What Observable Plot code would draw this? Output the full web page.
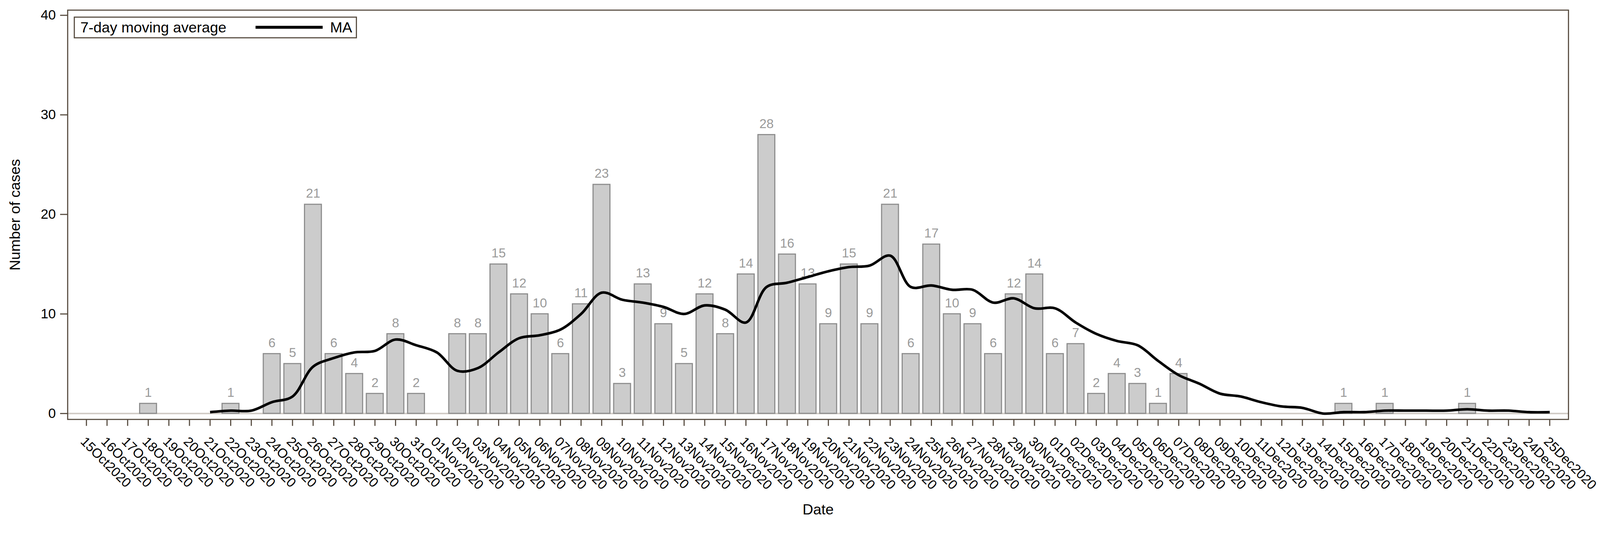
<!DOCTYPE html>
<html>
<head>
<meta charset="utf-8">
<script src="https://cdn.jsdelivr.net/npm/d3@7"></script>
<script src="https://cdn.jsdelivr.net/npm/@observablehq/plot@0.6"></script>
<style>
  html, body { margin: 0; padding: 0; background: #ffffff; overflow: hidden; }
  #wrap { position: relative; width: 4339px; height: 1426px; font-family: "Liberation Sans", Arial, sans-serif; transform-origin: 0 0; }
  #wrap svg { display: block; max-width: none; }
  #legend { position: absolute; left: 200px; top: 45px; width: 762px; height: 53px; border: 3px solid #54493d; background: #fff; box-sizing: content-box; }
  #legend .t1 { position: absolute; left: 15px; top: 4px; font-size: 40px; line-height: 44px; color: #000; }
  #legend .sw { position: absolute; left: 490px; top: 22px; width: 182px; height: 8px; background: #000; }
  #legend .t2 { position: absolute; left: 692px; top: 4px; font-size: 40px; line-height: 44px; color: #000; }
</style>
</head>
<body>
<div id="wrap"></div>
<script>
const dates = [
  "15Oct2020","16Oct2020","17Oct2020","18Oct2020","19Oct2020","20Oct2020","21Oct2020","22Oct2020","23Oct2020","24Oct2020",
  "25Oct2020","26Oct2020","27Oct2020","28Oct2020","29Oct2020","30Oct2020","31Oct2020",
  "01Nov2020","02Nov2020","03Nov2020","04Nov2020","05Nov2020","06Nov2020","07Nov2020","08Nov2020","09Nov2020","10Nov2020",
  "11Nov2020","12Nov2020","13Nov2020","14Nov2020","15Nov2020","16Nov2020","17Nov2020","18Nov2020","19Nov2020","20Nov2020",
  "21Nov2020","22Nov2020","23Nov2020","24Nov2020","25Nov2020","26Nov2020","27Nov2020","28Nov2020","29Nov2020","30Nov2020",
  "01Dec2020","02Dec2020","03Dec2020","04Dec2020","05Dec2020","06Dec2020","07Dec2020","08Dec2020","09Dec2020","10Dec2020",
  "11Dec2020","12Dec2020","13Dec2020","14Dec2020","15Dec2020","16Dec2020","17Dec2020","18Dec2020","19Dec2020","20Dec2020",
  "21Dec2020","22Dec2020","23Dec2020","24Dec2020","25Dec2020"
];
const cases = [
  0,0,0,1,0,0,0,1,0,6,
  5,21,6,4,2,8,2,
  0,8,8,15,12,10,6,11,23,3,
  13,9,5,12,8,14,28,16,13,9,
  15,9,21,6,17,10,9,6,12,14,
  6,7,2,4,3,1,4,0,0,0,
  0,0,0,0,1,0,1,0,0,0,
  1,0,0,0,0
];
// 7-day moving average (starts at 21Oct2020)
const maDates = dates.slice(6);
const maValues = [
  0.14,0.29,0.29,1.14,1.71,4.71,5.57,6.14,6.29,7.43,6.86,
  6.14,4.29,4.57,6.14,7.57,7.86,8.43,10.0,12.14,11.43,
  11.14,10.71,10.0,10.86,10.43,9.14,12.71,13.14,13.71,14.29,
  14.71,14.86,15.86,12.71,12.86,12.43,12.43,11.14,11.57,10.57,
  10.57,9.14,8.0,7.29,6.86,5.29,3.86,3.0,2.0,1.71,
  1.14,0.71,0.57,0.0,0.14,0.14,0.29,0.29,0.29,0.29,
  0.43,0.29,0.29,0.14,0.14
];
const yTicks = [0, 10, 20, 30, 40];

const barData = dates.map((d, i) => ({date: d, value: cases[i]})).filter(d => d.value > 0);
const maData = maDates.map((d, i) => ({date: d, ma: maValues[i]}));

const frameColor = "#54493d";
const font = "Liberation Sans, Arial, sans-serif";

const chart = Plot.plot({
  width: 4339,
  height: 1426,
  marginLeft: 183,
  marginRight: 86,
  marginTop: 27,
  marginBottom: 289,
  insetTop: 14,
  insetBottom: 16,
  style: {fontFamily: font, background: "#ffffff", maxWidth: "none"},
  x: {type: "band", domain: dates, paddingInner: 0.18, paddingOuter: 0.5, axis: null},
  y: {domain: [0, 40], axis: null},
  marks: [
    Plot.ruleY([0], {stroke: "#cfcac4", strokeWidth: 4}),
    Plot.barY(barData, {x: "date", y: "value", fill: "#cccccc", stroke: "#8c8c8c", strokeWidth: 3}),
    Plot.text(barData, {x: "date", y: "value", text: d => String(d.value), dy: -18, lineAnchor: "bottom", fill: "#9a9a9a", fontSize: 35}),
    Plot.line(maData, {x: "date", y: "ma", curve: "catmull-rom", stroke: "#000000", strokeWidth: 7, strokeLinejoin: "round", strokeLinecap: "butt"}),
    Plot.frame({stroke: frameColor, strokeWidth: 3}),
    Plot.axisY({ticks: yTicks, tickSize: 20, tickPadding: 12, fontSize: 37, stroke: frameColor, strokeWidth: 3, fill: "#000000", label: null}),
    Plot.axisX({tickSize: 18, tickPadding: 26, tickRotate: 45, textAnchor: "start", lineAnchor: "top", fontSize: 36, stroke: frameColor, strokeWidth: 3, fill: "#000000", label: null}),
    Plot.text(["Number of cases"], {frameAnchor: "left", dx: -142, rotate: -90, fontSize: 40, fill: "#000000", textAnchor: "middle", lineAnchor: "middle"}),
    Plot.text(["Date"], {frameAnchor: "bottom", dy: 245, fontSize: 40, fill: "#000000", textAnchor: "middle", lineAnchor: "middle"})
  ]
});

const wrap = document.getElementById("wrap");
wrap.appendChild(chart);
const legend = document.createElement("div");
legend.id = "legend";
legend.innerHTML = '<span class="t1">7-day moving average</span><span class="sw"></span><span class="t2">MA</span>';
wrap.appendChild(legend);

function fit() {
  const vw = document.documentElement.clientWidth || window.innerWidth;
  const s = vw / 4339;
  wrap.style.transform = Math.abs(s - 1) > 0.002 ? `scale(${s})` : "";
}
fit();
window.addEventListener("resize", fit);
</script>
</body>
</html>
